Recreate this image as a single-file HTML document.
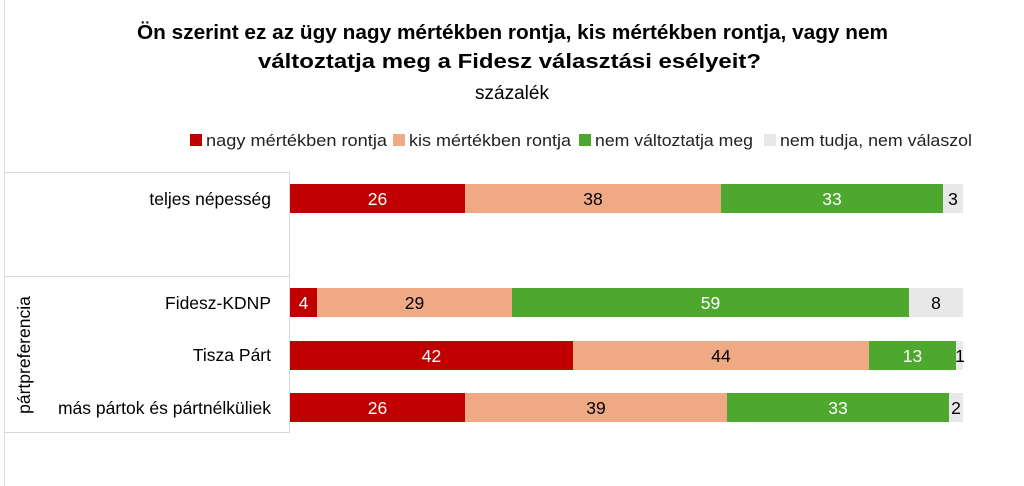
<!DOCTYPE html>
<html><head><meta charset="utf-8"><style>
body{margin:0;background:#fff;}
svg{display:block;font-family:"Liberation Sans",sans-serif;}
</style></head><body>
<svg width="1024" height="486" viewBox="0 0 1024 486">
<rect x="0" y="0" width="1024" height="486" fill="#fff"/>
<line x1="4.5" y1="0" x2="4.5" y2="486" stroke="#d9d9d9"/>
<text x="137" y="39" font-size="20" font-weight="bold" fill="#000" textLength="751" lengthAdjust="spacingAndGlyphs">Ön szerint ez az ügy nagy mértékben rontja, kis mértékben rontja, vagy nem</text>
<text x="258" y="68" font-size="20" font-weight="bold" fill="#000" textLength="503" lengthAdjust="spacingAndGlyphs">változtatja meg a Fidesz választási esélyeit?</text>
<text x="512" y="99" text-anchor="middle" font-size="19" fill="#000">százalék</text>
<g font-size="17" fill="#222">
<rect x="190" y="134" width="12" height="12" fill="#C00000"/><text x="206" y="146" textLength="181" lengthAdjust="spacingAndGlyphs">nagy mértékben rontja</text>
<rect x="393" y="134" width="12" height="12" fill="#F0A985"/><text x="409" y="146" textLength="162" lengthAdjust="spacingAndGlyphs">kis mértékben rontja</text>
<rect x="579" y="134" width="12" height="12" fill="#4EA72E"/><text x="595" y="146" textLength="158" lengthAdjust="spacingAndGlyphs">nem változtatja meg</text>
<rect x="764" y="134" width="12" height="12" fill="#E8E8E8"/><text x="780" y="146" textLength="192" lengthAdjust="spacingAndGlyphs">nem tudja, nem válaszol</text>
</g>
<g stroke="#d9d9d9" stroke-width="1">
<line x1="4" y1="172.5" x2="289.5" y2="172.5"/>
<line x1="4" y1="276.5" x2="289.5" y2="276.5"/>
<line x1="4" y1="432.5" x2="289.5" y2="432.5"/>
<line x1="289.5" y1="172" x2="289.5" y2="433"/>
</g>
<g font-size="17.5" fill="#000" text-anchor="end">
<text x="271" y="205">teljes népesség</text>
<text x="271" y="309">Fidesz-KDNP</text>
<text x="271" y="361">Tisza Párt</text>
<text x="271" y="414">más pártok és pártnélküliek</text>
</g>
<text transform="translate(30,355) rotate(-90)" text-anchor="middle" font-size="17.5" fill="#000">pártpreferencia</text>
<g font-size="17.5" text-anchor="middle">
<rect x="290" y="184" width="175" height="29" fill="#C00000"/><text x="377.5" y="205" fill="#fff">26</text>
<rect x="465" y="184" width="256" height="29" fill="#F0A985"/><text x="593" y="205" fill="#000">38</text>
<rect x="721" y="184" width="222" height="29" fill="#4EA72E"/><text x="832" y="205" fill="#fff">33</text>
<rect x="943" y="184" width="20" height="29" fill="#E8E8E8"/><text x="953" y="205" fill="#000">3</text>
<rect x="290" y="288" width="27" height="29" fill="#C00000"/><text x="303.5" y="309" fill="#fff">4</text>
<rect x="317" y="288" width="195" height="29" fill="#F0A985"/><text x="414.5" y="309" fill="#000">29</text>
<rect x="512" y="288" width="397" height="29" fill="#4EA72E"/><text x="710.5" y="309" fill="#fff">59</text>
<rect x="909" y="288" width="54" height="29" fill="#E8E8E8"/><text x="936" y="309" fill="#000">8</text>
<rect x="290" y="341" width="283" height="29" fill="#C00000"/><text x="431.5" y="362" fill="#fff">42</text>
<rect x="573" y="341" width="296" height="29" fill="#F0A985"/><text x="721" y="362" fill="#000">44</text>
<rect x="869" y="341" width="87" height="29" fill="#4EA72E"/><text x="912.5" y="362" fill="#fff">13</text>
<rect x="956" y="341" width="7" height="29" fill="#E8E8E8"/><text x="960" y="362" fill="#000">1</text>
<rect x="290" y="393" width="175" height="29" fill="#C00000"/><text x="377.5" y="414" fill="#fff">26</text>
<rect x="465" y="393" width="262" height="29" fill="#F0A985"/><text x="596" y="414" fill="#000">39</text>
<rect x="727" y="393" width="222" height="29" fill="#4EA72E"/><text x="838" y="414" fill="#fff">33</text>
<rect x="949" y="393" width="14" height="29" fill="#E8E8E8"/><text x="956" y="414" fill="#000">2</text>
</g>
</svg>
</body></html>
